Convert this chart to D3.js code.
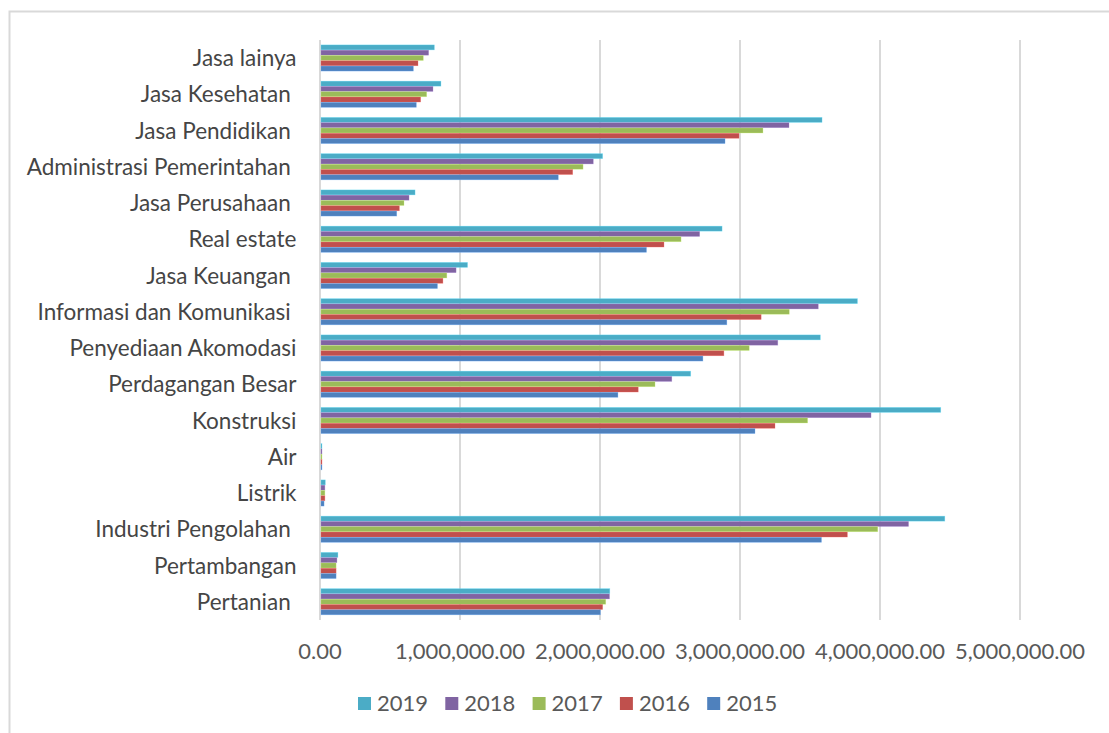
<!DOCTYPE html>
<html lang="id">
<head>
<meta charset="utf-8">
<title>PDRB per lapangan usaha 2015-2019</title>
<script src="https://d3js.org/d3.v7.min.js"></script>
<style>
  body { margin: 0; background: #fff; }
  text { font-family: Lato, "Liberation Sans", sans-serif; }
</style>
</head>
<body>
<svg width="1109" height="733"></svg>
<script>
    // kategori dari atas ke bawah (spasi di belakang seperti di sumber)
    var categories = ["Jasa lainya", "Jasa Kesehatan ", "Jasa Pendidikan ", "Administrasi Pemerintahan ",
        "Jasa Perusahaan ", "Real estate", "Jasa Keuangan ", "Informasi dan Komunikasi ",
        "Penyediaan Akomodasi", "Perdagangan Besar", "Konstruksi", "Air", "Listrik",
        "Industri Pengolahan ", "Pertambangan", "Pertanian "];
    var years = ["2019", "2018", "2017", "2016", "2015"];
    var colors = ["#4BACC6", "#8064A2", "#9BBB59", "#C0504D", "#4F81BD"];

    var v2019 = [817000, 864000, 3586000, 2019000, 679000, 2872000, 1054000, 3839000, 3574000, 2648000, 4434000, 10000, 38000, 4463000, 128000, 2070000];
    var v2018 = [776000, 807000, 3350000, 1952000, 636000, 2712000, 972000, 3559000, 3270000, 2513000, 3936000, 9000, 35000, 4204000, 121000, 2068000];
    var v2017 = [738000, 762000, 3164000, 1879000, 600000, 2579000, 906000, 3352000, 3066000, 2393000, 3483000, 9000, 35000, 3984000, 115000, 2041000];
    var v2016 = [700000, 719000, 2993000, 1805000, 567000, 2457000, 878000, 3151000, 2885000, 2273000, 3250000, 9000, 35000, 3767000, 115000, 2019000];
    var v2015 = [667000, 688000, 2893000, 1702000, 548000, 2332000, 839000, 2906000, 2735000, 2128000, 3107000, 8000, 29000, 3582000, 115000, 2003000];
    var series = [v2019, v2018, v2017, v2016, v2015];

    var xTicks = [0, 1000000, 2000000, 3000000, 4000000, 5000000];

    var svg = d3.select("svg");

    // bingkai grafik
    svg.append("rect")
        .attr("x", 9.5).attr("y", 11.5)
        .attr("width", 1200).attr("height", 800)
        .attr("fill", "none")
        .attr("stroke", "#d9d9d9")
        .attr("stroke-width", 2);

    var x = d3.scaleLinear().domain([0, 5000000]).range([320, 1020]);
    var y = d3.scaleBand().domain(categories).range([40, 620])
        .paddingInner(0.27).paddingOuter(0.135);
    var yInner = d3.scaleBand().domain(years).range([0, y.bandwidth()]);

    // garis grid
    svg.append("g").selectAll("line")
        .data(xTicks)
        .enter()
        .append("line")
        .attr("x1", function(d){ return x(d); })
        .attr("x2", function(d){ return x(d); })
        .attr("y1", 40).attr("y2", 620)
        .attr("stroke", "#d9d9d9")
        .attr("stroke-width", 2);

    // batang
    var rows = [];
    categories.forEach(function(c, i){
        years.forEach(function(yr, j){
            rows.push({cat: c, year: yr, value: series[j][i], color: colors[j]});
        });
    });

    svg.append("g").selectAll("rect")
        .data(rows)
        .enter()
        .append("rect")
        .attr("x", x(0) + 1)
        .attr("y", function(d){ return y(d.cat) + yInner(d.year); })
        .attr("width", function(d){ return Math.max(1, x(d.value) - x(0) - 1); })
        .attr("height", yInner.bandwidth() - 0.3)
        .attr("fill", function(d){ return d.color; })
        .attr("stroke", function(d){ return d3.color(d.color).brighter(0.8); })
        .attr("stroke-opacity", 0.5)
        .attr("stroke-width", 0.6);

    // label kategori
    svg.append("g").selectAll("text")
        .data(categories)
        .enter()
        .append("text")
        .attr("x", 296.5)
        .attr("y", function(d){ return y(d) + y.bandwidth() / 2 + 8; })
        .attr("text-anchor", "end")
        .style("white-space", "pre")
        .attr("font-size", 22.5)
        .attr("fill", "#454545")
        .text(function(d){ return d; });

    // label sumbu x
    svg.append("g").selectAll("text")
        .data(xTicks)
        .enter()
        .append("text")
        .attr("x", function(d){ return x(d); })
        .attr("y", 659)
        .attr("text-anchor", "middle")
        .attr("font-size", 22)
        .attr("fill", "#595959")
        .text(function(d){ return d3.format(",.2f")(d); });

    // legenda
    var legend = svg.append("g").selectAll("g")
        .data(years)
        .enter()
        .append("g")
        .attr("transform", function(d, i){ return "translate(" + (358 + i * 87.3) + ",697)"; });
    legend.append("rect")
        .attr("width", 13).attr("height", 13)
        .attr("fill", function(d, i){ return colors[i]; });
    legend.append("text")
        .attr("x", 19).attr("y", 14)
        .attr("font-size", 22)
        .attr("fill", "#595959")
        .text(function(d){ return d; });
</script>
</body>
</html>
